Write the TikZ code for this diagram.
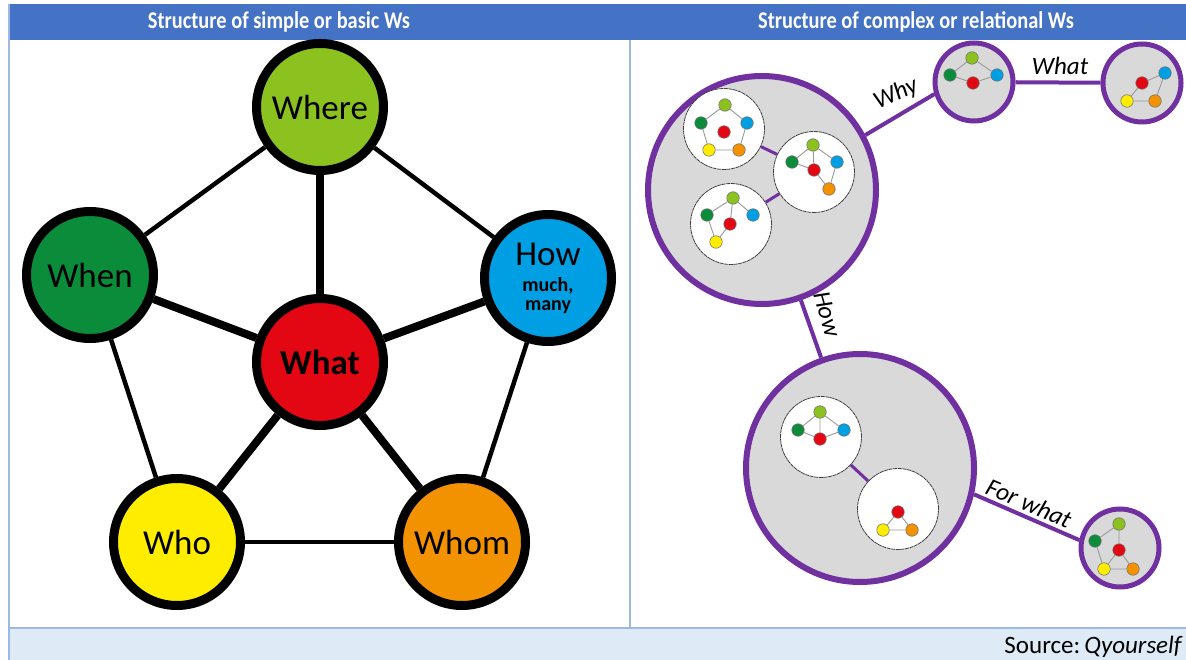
\documentclass[tikz,border=0pt]{standalone}
\usepackage{fontspec}
\setmainfont{Carlito}
\definecolor{wlime}{HTML}{8CC21F}
\definecolor{wgreen}{HTML}{0B8C3A}
\definecolor{wblue}{HTML}{009FE3}
\definecolor{wred}{HTML}{E30613}
\definecolor{wyellow}{HTML}{FFED00}
\definecolor{worange}{HTML}{F39200}
\definecolor{wpurple}{HTML}{7030A0}
\definecolor{wgray}{HTML}{D9D9D9}
\definecolor{hdrblue}{HTML}{4472C4}
\definecolor{srcbar}{HTML}{DEEAF6}
\definecolor{rulecol}{HTML}{9DB8E2}
\tikzset{
  bignode/.style={circle,draw=black,line width=9pt,minimum size=127pt,inner sep=0pt,font=\fontsize{35}{38}\selectfont},
  outeredge/.style={line width=4.5pt,black},
  spoke/.style={line width=8pt,black},
  cluster/.style={circle,draw=wpurple,fill=wgray,line width=6pt,minimum size=228pt,inner sep=0pt},
  smallcluster/.style={circle,draw=wpurple,fill=wgray,line width=5pt,minimum size=78pt,inner sep=0pt},
  inner/.style={circle,draw=black!75,fill=white,line width=0.8pt,dash pattern=on 4pt off 0.6pt,minimum size=81pt,inner sep=0pt},
  link/.style={line width=4pt,wpurple},
  innerlink/.style={line width=3pt,wpurple},
  mini/.style={circle,draw=black!55,line width=0.6pt,minimum size=12.5pt,inner sep=0pt},
  miniedge/.style={line width=0.9pt,black!40},
  rel/.style={text=black,inner sep=0pt,font=\fontsize{25}{27}\selectfont\itshape},
  hdr/.style={text=white,font=\fontsize{24}{26}\selectfont\bfseries}
}
\newcommand{\mn}[4]{\node[mini,fill=#2] (#1) at (#3,#4) {};}
\begin{document}
\begin{tikzpicture}[x=1pt,y=-1pt]
\useasboundingbox (0,0) rectangle (1186,660);
% table frame
\fill[srcbar] (9,628) rectangle (1186,660);
\fill[hdrblue] (9,4) rectangle (1186,40);
\draw[rulecol,line width=1.5pt] (9,4) -- (9,660);
\draw[rulecol,line width=1.5pt] (630,40) -- (630,628);
\draw[rulecol,line width=1.5pt] (9,628) -- (1186,628);
\node[hdr] (h1) at (279,22) {\scalebox{0.85}[1]{Structure of simple or basic Ws}};
\node[hdr] (h2) at (916,22) {\scalebox{0.85}[1]{Structure of complex or relational Ws}};
\node[anchor=base east,inner sep=0pt,font=\fontsize{25}{27}\selectfont] (src) at (1183,653) {Source:\,\textit{Qyourself}};

% ---------- left: simple Ws ----------
\node[bignode,fill=wlime] (where) at (320,107) {Where};
\node[bignode,fill=wgreen] (when) at (90,275) {When};
\node[bignode,fill=wblue,align=center] (how) at (548,278) {How\\[-12pt]{\fontsize{20}{22}\selectfont\bfseries much,}\\[-19pt]{\fontsize{20}{22}\selectfont\bfseries many}};
\node[bignode,fill=wred,font=\fontsize{35}{38}\selectfont\bfseries] (what) at (320,362) {What};
\node[bignode,fill=wyellow] (who) at (177,542) {Who};
\node[bignode,fill=worange] (whom) at (462,542) {Whom};
\draw[outeredge] (where) -- (when);
\draw[outeredge] (where) -- (how);
\draw[outeredge] (when) -- (who);
\draw[outeredge] (how) -- (whom);
\draw[outeredge] (who) -- (whom);
\foreach \n in {where,when,how,who,whom} \draw[spoke] (what) -- (\n);

% ---------- right: relational Ws ----------
\node[cluster] (A) at (762,190) {};
\node[smallcluster] (B) at (974,82) {};
\node[smallcluster] (C) at (1142,83) {};
\node[cluster] (D) at (860,468) {};
\node[smallcluster] (E) at (1120,548) {};
\draw[link] (A.28) -- (B.197);
\draw[link] (B) -- (C);
\draw[link] (A) -- (D);
\draw[link] (D.-13) -- (E.169);
\node[rel,rotate=25] (lwhy) at (896,94) {Why};
\node[rel] (lwhat) at (1060,66) {What};
\node[rel,rotate=-74] (lhow) at (827,314) {How};
\node[rel,rotate=-23] (lfor) at (1029,503) {For what};

% inner circles of A
\node[inner] (a1) at (724,129) {};
\node[inner] (a2) at (814,172) {};
\node[inner] (a3) at (731,224) {};
\draw[innerlink] (a1) -- (a2);
\draw[innerlink] (a3) -- (a2);
% inner circles of D
\node[inner] (d1) at (821,437) {};
\node[inner] (d2) at (898,509) {};
\draw[innerlink] (d1) -- (d2);

% mini graph a1
\mn{a1l}{wlime}{725}{105}\mn{a1g}{wgreen}{701}{123}\mn{a1b}{wblue}{747}{123}
\mn{a1r}{wred}{724}{132}\mn{a1y}{wyellow}{709}{150}\mn{a1o}{worange}{739}{150}
\draw[miniedge] (a1l)--(a1g) (a1l)--(a1b) (a1g)--(a1y) (a1b)--(a1o) (a1y)--(a1o);
% mini graph a2
\mn{a2l}{wlime}{813}{145}\mn{a2g}{wgreen}{792}{162}\mn{a2b}{wblue}{837}{162}
\mn{a2r}{wred}{814}{170}\mn{a2o}{worange}{829}{189}
\draw[miniedge] (a2l)--(a2g) (a2l)--(a2b) (a2l)--(a2r) (a2g)--(a2r) (a2b)--(a2o) (a2r)--(a2o);
% mini graph a3
\mn{a3l}{wlime}{733}{198}\mn{a3g}{wgreen}{707}{215}\mn{a3b}{wblue}{753}{215}
\mn{a3r}{wred}{730}{224}\mn{a3y}{wyellow}{716}{242}
\draw[miniedge] (a3l)--(a3g) (a3l)--(a3b) (a3l)--(a3r) (a3g)--(a3y) (a3r)--(a3y);
% mini graph B
\mn{bl}{wlime}{972}{58}\mn{bg}{wgreen}{950}{75}\mn{br}{wred}{973}{83}\mn{bb}{wblue}{997}{75}
\draw[miniedge] (bl)--(bg) (bl)--(bb) (bg)--(br) (br)--(bb);
% mini graph C
\mn{cr}{wred}{1142}{83}\mn{cb}{wblue}{1165}{73}\mn{cy}{wyellow}{1127}{101}\mn{co}{worange}{1155}{101}
\draw[miniedge] (cr)--(cb) (cr)--(cy) (cy)--(co) (co)--(cb);
% mini graph d1
\mn{d1l}{wlime}{820}{412}\mn{d1g}{wgreen}{798}{430}\mn{d1b}{wblue}{844}{430}\mn{d1r}{wred}{820}{439}
\draw[miniedge] (d1l)--(d1g) (d1l)--(d1b) (d1l)--(d1r) (d1g)--(d1r) (d1r)--(d1b);
% mini graph d2
\mn{d2r}{wred}{898}{512}\mn{d2y}{wyellow}{883}{530}\mn{d2o}{worange}{912}{530}
\draw[miniedge] (d2r)--(d2y) (d2r)--(d2o) (d2y)--(d2o);
% mini graph E
\mn{el}{wlime}{1119}{524}\mn{eg}{wgreen}{1095}{541}\mn{er}{wred}{1119}{550}
\mn{ey}{wyellow}{1104}{569}\mn{eo}{worange}{1133}{569}
\draw[miniedge] (el)--(eg) (el)--(er) (eg)--(ey) (er)--(ey) (er)--(eo) (ey)--(eo);
\end{tikzpicture}
\end{document}
